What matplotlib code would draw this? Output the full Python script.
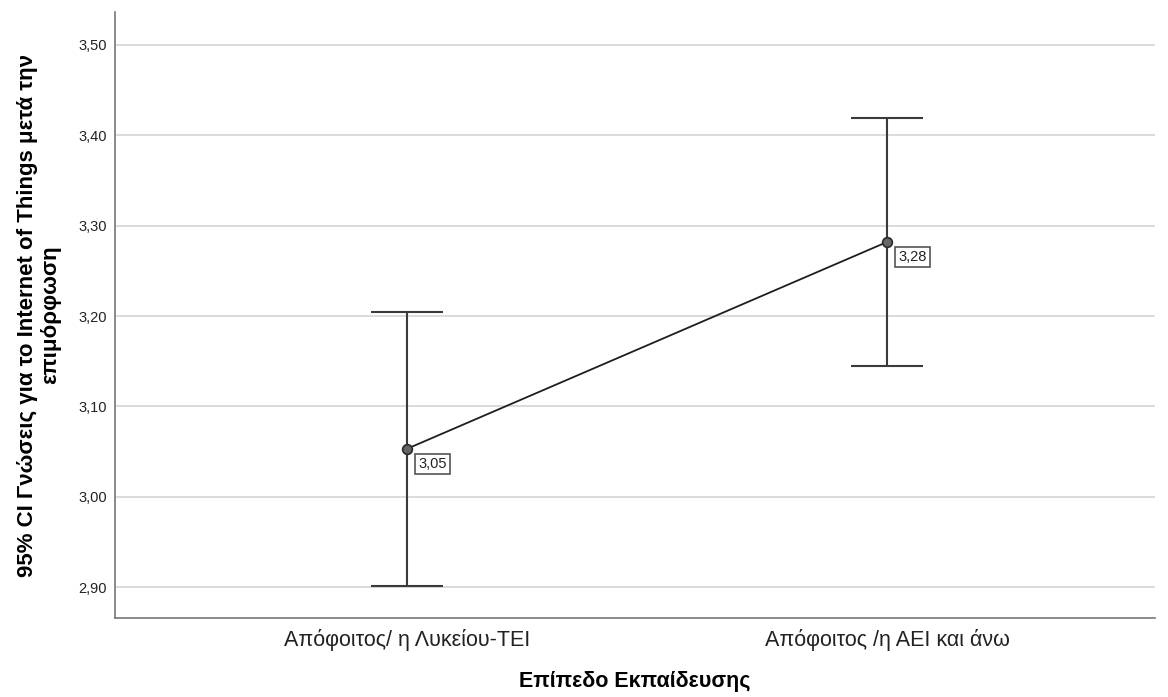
import matplotlib
matplotlib.use("Agg")
import matplotlib.pyplot as plt

# ======================================================
# DATA
# ======================================================

categories = ["Απόφοιτος/ η Λυκείου-ΤΕΙ", "Απόφοιτος /η ΑΕΙ και άνω"]
means = [3.053, 3.282]
ci_low = [2.901, 3.145]
ci_high = [3.204, 3.419]
yticks = [2.90, 3.00, 3.10, 3.20, 3.30, 3.40, 3.50]

plt.rcParams["font.family"] = ["Liberation Sans", "DejaVu Sans"]

# ======================================================
# PLOT
# ======================================================

fig = plt.figure(figsize=(11.68, 6.97), dpi=100)
ax = fig.add_axes([0.0985, 0.1133, 0.8905, 0.8695])

x = list(range(len(categories)))

for gy in yticks:
    ax.axhline(gy, color="#d4d4d4", linewidth=1.2, zorder=0)

err_low = [m - l for m, l in zip(means, ci_low)]
err_high = [h - m for m, h in zip(means, ci_high)]

ax.errorbar(
    x, means,
    yerr=[err_low, err_high],
    fmt="none",
    ecolor="#3a3a3a",
    elinewidth=1.5,
    capsize=26,
    capthick=1.5,
    zorder=2
)

ax.plot(x, means, color="#1e1e1e", linewidth=1.3, zorder=3)

ax.plot(
    x, means,
    linestyle="none",
    marker="o",
    markersize=7,
    markerfacecolor="#666666",
    markeredgecolor="#2a2a2a",
    markeredgewidth=1.2,
    zorder=4
)

for xi, m in zip(x, means):
    ax.annotate(
        f"{m:.2f}".replace(".", ","),
        xy=(xi, m),
        xytext=(8, -6),
        textcoords="offset points",
        ha="left",
        va="top",
        fontsize=10.5,
        color="#222222",
        bbox=dict(boxstyle="square,pad=0.2", facecolor="white",
                  edgecolor="#555555", linewidth=1.2),
        zorder=5
    )

ax.set_xlim(-0.608, 1.558)
ax.set_ylim(2.8657, 3.5365)

ax.set_yticks(yticks)
ax.set_yticklabels([f"{v:.2f}".replace(".", ",") for v in yticks],
                   fontsize=10.5, color="#222222")
ax.set_xticks(x)
ax.set_xticklabels(categories, fontsize=15.5, color="#222222")
ax.tick_params(axis="x", length=0, pad=8)
ax.tick_params(axis="y", length=0, pad=6)

for side in ["top", "right"]:
    ax.spines[side].set_visible(False)
for side in ["left", "bottom"]:
    ax.spines[side].set_color("#777777")
    ax.spines[side].set_linewidth(1.2)

ax.set_xlabel("Επίπεδο Εκπαίδευσης", fontsize=15.5, fontweight="bold", labelpad=14)
ax.set_ylabel("95% CI Γνώσεις για το Internet of Things μετά την\nεπιμόρφωση",
              fontsize=16, fontweight="bold", linespacing=1.1)
ax.yaxis.set_label_coords(-0.052, 0.5)

fig.savefig("out.png", dpi=100)
